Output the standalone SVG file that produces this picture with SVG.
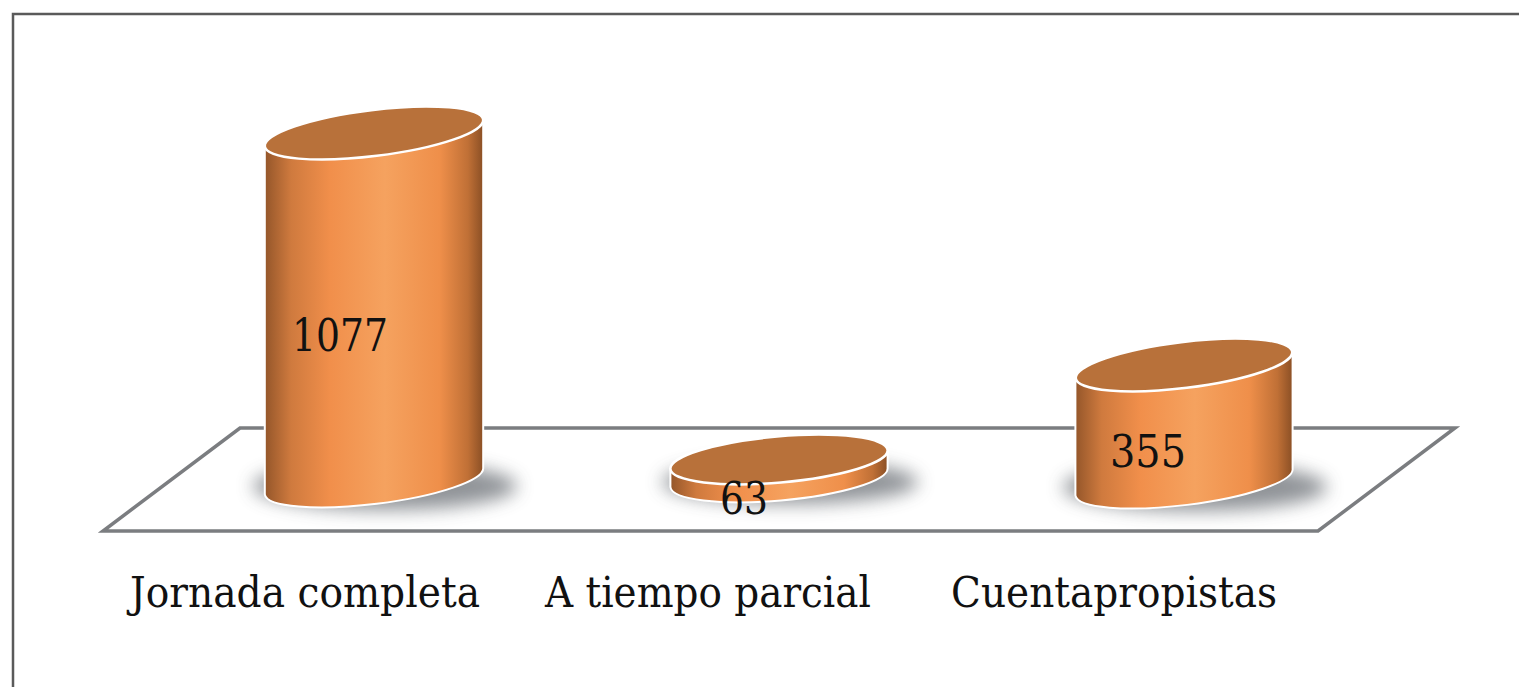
<svg xmlns="http://www.w3.org/2000/svg" width="1519" height="687" viewBox="0 0 1519 687">
<style>
.lbl{font-family:"DejaVu Serif","Liberation Serif",serif;font-size:42px;fill:#111}
.num{font-size:44px}
.top{fill:#b8713a;stroke:#ffffff;stroke-width:2.5}
.body{fill:url(#cyl);stroke:#ffffff;stroke-width:2}
.shadow{fill:#7d8186;filter:url(#blur);opacity:0.85}
</style>
<defs>
<linearGradient id="cyl" x1="0" y1="0" x2="1" y2="0">
<stop offset="0" stop-color="#94562a"/>
<stop offset="0.12" stop-color="#cf7a3e"/>
<stop offset="0.3" stop-color="#f18f4b"/>
<stop offset="0.55" stop-color="#f5a25f"/>
<stop offset="0.8" stop-color="#ef8f4a"/>
<stop offset="0.93" stop-color="#c07036"/>
<stop offset="1" stop-color="#8a4f25"/>
</linearGradient>
<filter id="blur" x="-30%" y="-80%" width="160%" height="260%">
<feGaussianBlur stdDeviation="9"/>
</filter>
</defs>
<rect x="0" y="0" width="1519" height="687" fill="#ffffff"/>
<path d="M13,687 L13,14 L1519,14" fill="none" stroke="#5a5a5a" stroke-width="2.5"/>
<polygon id="floor" points="240,428 1455,428 1318,531 103,531" fill="#ffffff" stroke="#7b7d80" stroke-width="3.5" stroke-linejoin="miter"/>

<g id="bar-jornada">
<ellipse class="shadow" cx="385" cy="486" rx="132" ry="24"/>
<path class="body" d="M264.8,146.4 L264.8,494.4 A110 23 -7 0 0 483.2,467.6 L483.2,119.6 Z"/>
<ellipse class="top" cx="374" cy="133" rx="110" ry="23" transform="rotate(-7 374 133)"/>
<text class="lbl num" x="340" y="351" text-anchor="middle" textLength="96" lengthAdjust="spacingAndGlyphs">1077</text>
</g>

<g id="bar-parcial">
<ellipse class="shadow" cx="790" cy="482" rx="128" ry="22"/>
<path class="body" d="M670.4,469 L670.4,487 A109 23 -5 0 0 887.6,468 L887.6,450 Z"/>
<ellipse class="top" cx="779" cy="459.5" rx="109" ry="23" transform="rotate(-5 779 459.5)"/>
<text class="lbl num" x="744" y="514" text-anchor="middle" textLength="48" lengthAdjust="spacingAndGlyphs">63</text>
</g>

<g id="bar-cuenta">
<ellipse class="shadow" cx="1195" cy="487" rx="132" ry="24"/>
<path class="body" d="M1075.4,378.4 L1075.4,495.4 A109 23 -7 0 0 1292.6,468.6 L1292.6,351.6 Z"/>
<ellipse class="top" cx="1184" cy="365" rx="109" ry="23" transform="rotate(-7 1184 365)"/>
<text class="lbl num" x="1148" y="467" text-anchor="middle" textLength="76" lengthAdjust="spacingAndGlyphs">355</text>
</g>

<g id="labels">
<text class="lbl" x="130" y="607" textLength="350" lengthAdjust="spacingAndGlyphs">Jornada completa</text>
<text class="lbl" x="545" y="607" textLength="326" lengthAdjust="spacingAndGlyphs">A tiempo parcial</text>
<text class="lbl" x="951" y="607" textLength="326" lengthAdjust="spacingAndGlyphs">Cuentapropistas</text>
</g>
</svg>
